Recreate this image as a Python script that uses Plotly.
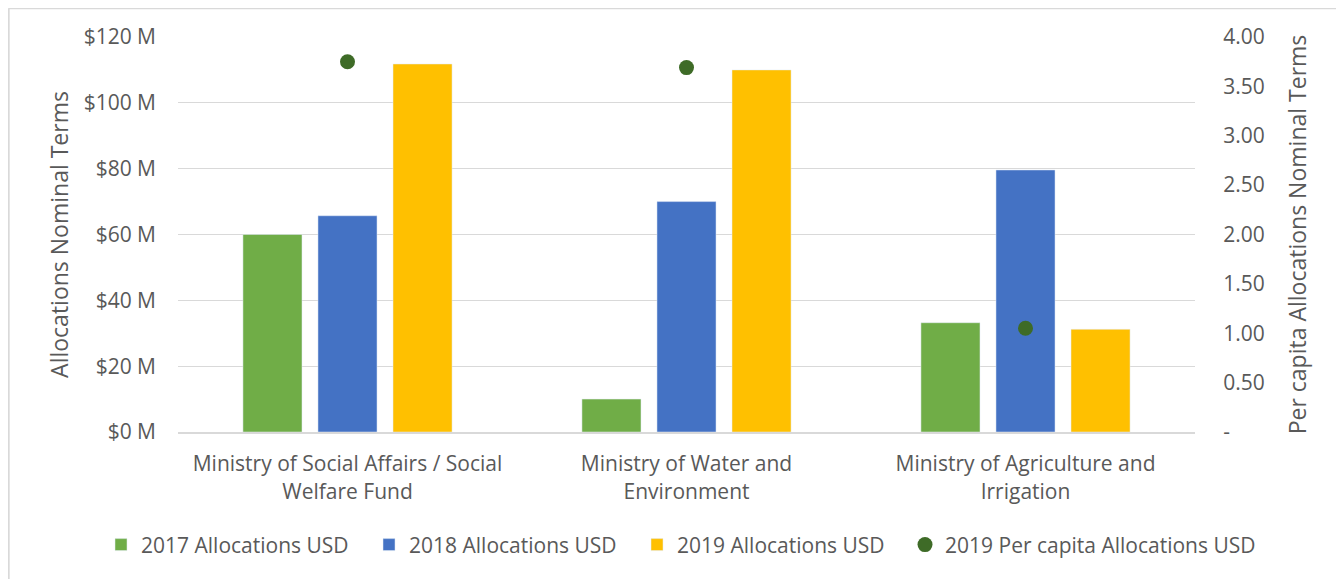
import plotly.graph_objects as go

categories = ["Ministry of Social Affairs / Social<br>Welfare Fund",
              "Ministry of Water and<br>Environment",
              "Ministry of Agriculture and<br>Irrigation"]
alloc_2017 = [60.0, 10.0, 33.2]
alloc_2018 = [65.7, 70.0, 79.6]
alloc_2019 = [111.8, 110.0, 31.2]
per_capita_2019 = [3.75, 3.69, 1.05]

left_ticks = [0, 20, 40, 60, 80, 100, 120]
left_labels = ["$0 M", "$20 M", "$40 M", "$60 M", "$80 M", "$100 M", "$120 M"]
right_ticks = [0, 0.5, 1.0, 1.5, 2.0, 2.5, 3.0, 3.5, 4.0]
right_labels = ["-", "0.50", "1.00", "1.50", "2.00", "2.50", "3.00", "3.50", "4.00"]

FONT = "Open Sans, Lato, sans-serif"
TXT = "#595959"
FS = 21
TS = 23

fig = go.Figure()
fig.add_trace(go.Bar(x=categories, y=alloc_2017, name="2017 Allocations USD",
                     marker_color="#70ad47"))
fig.add_trace(go.Bar(x=categories, y=alloc_2018, name="2018 Allocations USD",
                     marker_color="#4472c4"))
fig.add_trace(go.Bar(x=categories, y=alloc_2019, name="2019 Allocations USD",
                     marker_color="#ffc000"))
fig.add_trace(go.Scatter(x=categories, y=per_capita_2019, name="2019 Per capita Allocations USD",
                         mode="markers", yaxis="y2", legendwidth=330,
                         marker=dict(color="#3e6b27", size=15)))

fig.update_layout(
    width=1336, height=571,
    margin=dict(l=170, r=149, t=29, b=147, autoexpand=False),
    paper_bgcolor="white", plot_bgcolor="white",
    font=dict(family=FONT, size=FS, color=TXT),
    barmode="group", bargap=0.336, bargroupgap=0.213,
    showlegend=True,
    legend=dict(orientation="h", x=-0.0757, xanchor="left",
                y=-0.286, yanchor="middle", entrywidth=223, entrywidthmode="pixels",
                font=dict(size=FS, color=TXT), itemwidth=30, tracegroupgap=0),
    xaxis=dict(showline=True, linecolor="#d9d9d9", linewidth=2, ticks="",
               tickfont=dict(size=FS, color=TXT), showgrid=False,
               ticklabelstandoff=12),
    yaxis=dict(range=[0, 120], tickvals=left_ticks, ticktext=left_labels,
               showgrid=True, gridcolor="#d9d9d9", gridwidth=1, zeroline=False,
               ticks="", ticklen=0, ticklabelstandoff=21,
               title=dict(text="Allocations Nominal Terms", font=dict(size=TS, color=TXT), standoff=8),
               tickfont=dict(size=FS, color=TXT)),
    yaxis2=dict(range=[0, 4], overlaying="y", side="right", tickvals=right_ticks,
                ticktext=right_labels, showgrid=False, zeroline=False,
                ticks="outside", ticklen=23, tickcolor="rgba(0,0,0,0)",
                title=dict(text="Per capita Allocations Nominal Terms", font=dict(size=TS, color=TXT), standoff=26),
                tickfont=dict(size=FS, color=TXT)),
)

# outer chart border
fig.add_shape(type="line", xref="paper", yref="paper", x0=-0.1665, x1=-0.1665, y0=-0.4, y1=1.0725,
              line=dict(color="#d9d9d9", width=2))
fig.add_shape(type="line", xref="paper", yref="paper", x0=-0.1665, x1=1.2, y0=1.0725, y1=1.0725,
              line=dict(color="#d9d9d9", width=2))

fig.write_html("out.html")
